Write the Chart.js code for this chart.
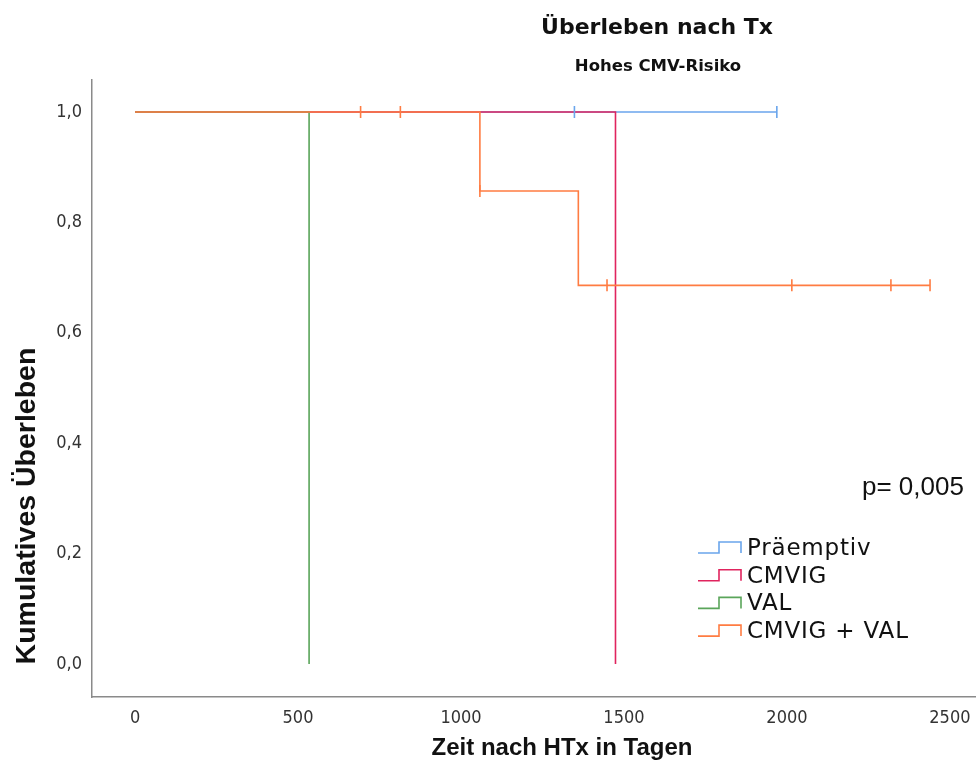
<!DOCTYPE html>
<html lang="de">
<head>
    <meta charset="UTF-8">
    <title>Überleben nach Tx</title>
    <script src="https://cdn.jsdelivr.net/npm/chart.js"></script>
    <style>
        body { margin: 0; background: #ffffff; }
        #chart-box { width: 976px; height: 765px; }
    </style>
</head>
<body>
    <div id="chart-box">
        <canvas id="km-chart" width="976" height="765"></canvas>
    </div>

    <script>
        // Kaplan-Meier curves: time of each step (days) and survival after that step
        const groupNames = ["Präemptiv", "CMVIG", "VAL", "CMVIG + VAL"];
        const groupColors = ["#6aa5ec", "#e0245e", "#5aa55a", "#ff7c42"];

        const praemptivTimes = [0, 1969];
        const praemptivSurv = [1.0, 1.0];
        const praemptivCensored = [1348, 1969];

        const cmvigTimes = [0, 1474];
        const cmvigSurv = [1.0, 0.0];
        const cmvigCensored = [];

        const valTimes = [0, 534];
        const valSurv = [1.0, 0.0];
        const valCensored = [];

        const comboTimes = [0, 1058, 1360, 2439];
        const comboSurv = [1.0, 0.857, 0.686, 0.686];
        const comboCensored = [692, 814, 1058, 1448, 2015, 2319, 2439];

        const xTicks = [0, 500, 1000, 1500, 2000, 2500];
        const yTicks = [0.0, 0.2, 0.4, 0.6, 0.8, 1.0];
        const pValueText = "p= 0,005";

        const curves = [
            { times: praemptivTimes, surv: praemptivSurv, censored: praemptivCensored },
            { times: cmvigTimes, surv: cmvigSurv, censored: cmvigCensored },
            { times: valTimes, surv: valSurv, censored: valCensored },
            { times: comboTimes, surv: comboSurv, censored: comboCensored }
        ];

        // survival value of a curve at time t (step function)
        function survAt(curve, t) {
            let s = curve.surv[0];
            curve.times.forEach((time, i) => { if (time <= t) s = curve.surv[i]; });
            return s;
        }

        // later groups sit on top of earlier ones where lines overlap
        const datasets = [];
        curves.forEach((curve, i) => {
            datasets.push({
                label: groupNames[i],
                data: curve.times.map((t, k) => ({ x: t, y: curve.surv[k] })),
                showLine: true,
                stepped: "before",
                borderColor: groupColors[i],
                borderWidth: 1.6,
                pointRadius: 0,
                order: 10 - i
            });
            if (curve.censored.length) {
                datasets.push({
                    label: groupNames[i] + " zensiert",
                    data: curve.censored.map(t => ({ x: t, y: survAt(curve, t) })),
                    showLine: false,
                    pointStyle: "line",
                    rotation: 90,
                    pointRadius: 6,
                    borderColor: groupColors[i],
                    borderWidth: 1.6,
                    order: 5 - i
                });
            }
        });

        // titles, axis titles, p-value and the step-style legend
        const annotations = {
            id: "annotations",
            afterDraw(chart) {
                const c = chart.ctx;
                c.save();
                c.fillStyle = "#111";
                c.textAlign = "center";
                c.textBaseline = "middle";

                c.font = "bold 22px 'DejaVu Sans'";
                c.fillText("Überleben nach Tx", 657, 28);
                c.font = "bold 16.5px 'DejaVu Sans'";
                c.fillText("Hohes CMV-Risiko", 658, 67);

                c.font = "bold 24px 'Liberation Sans'";
                c.fillText("Zeit nach HTx in Tagen", 562, 748);

                c.save();
                c.translate(35, 506);
                c.rotate(-Math.PI / 2);
                c.textBaseline = "alphabetic";
                c.font = "bold 28.5px 'Liberation Sans'";
                c.fillText("Kumulatives Überleben", 0, 0);
                c.restore();

                c.textAlign = "left";
                c.font = "26px 'Liberation Sans'";
                c.fillText(pValueText, 862, 488);

                // legend
                c.font = "23px 'DejaVu Sans'";
                c.letterSpacing = "0.8px";
                groupNames.forEach((name, i) => {
                    const y = 548 + i * 27.7;
                    c.strokeStyle = groupColors[i];
                    c.lineWidth = 1.6;
                    c.beginPath();
                    c.moveTo(698, y + 5);
                    c.lineTo(719, y + 5);
                    c.lineTo(719, y - 6);
                    c.lineTo(741, y - 6);
                    c.lineTo(741, y + 5);
                    c.stroke();
                    c.fillStyle = "#111";
                    c.fillText(name, 747, y + 1);
                });
                c.restore();
            }
        };

        const tickFont = { family: "'DejaVu Sans Condensed', 'DejaVu Sans'", size: 18 };

        new Chart(document.getElementById("km-chart"), {
            type: "scatter",
            data: { datasets: datasets },
            options: {
                responsive: false,
                animation: false,
                layout: { autoPadding: false, padding: { top: 80, right: 0, left: 0, bottom: 0 } },
                plugins: {
                    legend: { display: false },
                    tooltip: { enabled: false },
                    title: { display: false }
                },
                scales: {
                    x: {
                        type: "linear",
                        min: -132,
                        max: 2580,
                        grid: { display: false, drawTicks: false },
                        border: { display: true, color: "#8a8a8a", width: 1.5 },
                        afterBuildTicks: scale => { scale.ticks = xTicks.map(v => ({ value: v })); },
                        afterFit: scale => {
                            scale.height = 68;
                            scale.paddingLeft = 0;
                            scale.paddingRight = 0;
                        },
                        ticks: {
                            font: tickFont,
                            color: "#333",
                            padding: 11,
                            maxRotation: 0,
                            callback: v => String(v)
                        }
                    },
                    y: {
                        type: "linear",
                        min: -0.0598,
                        max: 1.058,
                        grid: { display: false, drawTicks: false },
                        border: { display: true, color: "#8a8a8a", width: 1.5 },
                        afterBuildTicks: scale => { scale.ticks = yTicks.map(v => ({ value: v })); },
                        afterFit: scale => {
                            scale.width = 92;
                            scale.paddingTop = 0;
                            scale.paddingBottom = 0;
                        },
                        ticks: {
                            font: tickFont,
                            color: "#333",
                            padding: 10,
                            callback: v => v.toFixed(1).replace(".", ",")
                        }
                    }
                }
            },
            plugins: [annotations]
        });
    </script>
</body>
</html>
